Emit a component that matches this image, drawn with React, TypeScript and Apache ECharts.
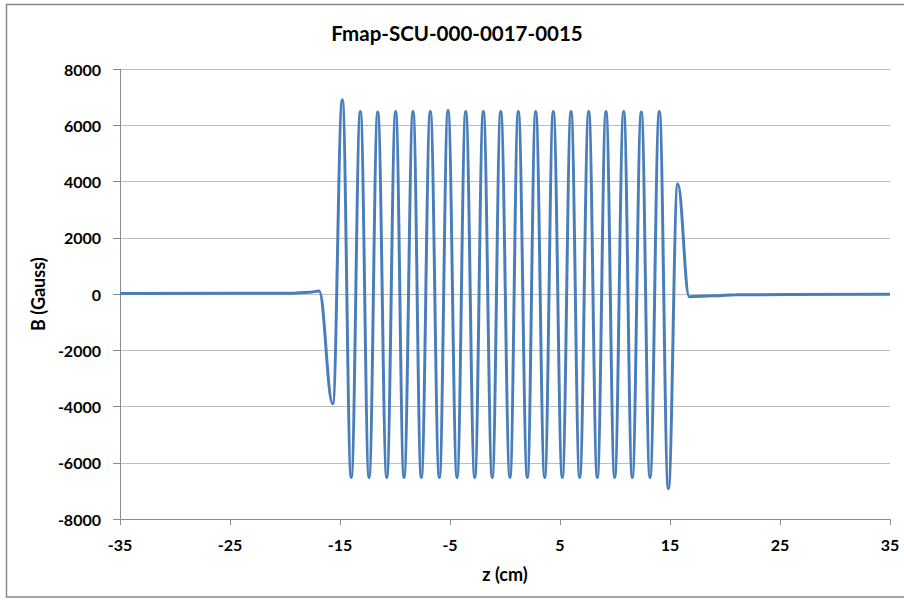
import React, { useEffect, useRef } from "react";
import * as echarts from "echarts";

// Longitudinal position along the magnet (cm) and field reading (Gauss) at each extremum
const Z_CM = [
  -35, -19.6, -17.8, -16.9, -15.66, -14.79, -13.98, -13.15, -12.36, -11.57,
  -10.75, -9.94, -9.18, -8.36, -7.61, -6.79, -5.97, -5.18, -4.36, -3.57,
  -2.75, -1.97, -1.16, -0.39, 0.45, 1.21, 2.03, 2.79, 3.61, 4.39,
  5.21, 6.0, 6.79, 7.61, 8.39, 9.18, 9.97, 10.79, 11.57, 12.39,
  13.18, 14.03, 14.85, 15.7, 16.75, 19.0, 21.0, 35,
];
const B_GAUSS = [
  20, 30, 70, 110, -3900, 6920, -6520, 6500, -6520, 6480,
  -6520, 6500, -6520, 6500, -6520, 6500, -6520, 6530, -6520, 6500,
  -6520, 6500, -6520, 6500, -6520, 6500, -6520, 6500, -6520, 6500,
  -6520, 6500, -6520, 6500, -6520, 6500, -6520, 6500, -6520, 6480,
  -6520, 6500, -6920, 3920, -90, -60, -20, 0,
];

const X_TICKS = [-35, -25, -15, -5, 5, 15, 25, 35];
const TITLE = "Fmap-SCU-000-0017-0015";
const X_NAME = "z (cm)";
const Y_NAME = "B (Gauss)";

const FONT = "Lato, 'Open Sans', sans-serif";

export default function App() {
  const ref = useRef<HTMLDivElement>(null);

  useEffect(() => {
    if (!ref.current) return;
    const chart = echarts.init(ref.current, undefined, { renderer: "svg" });
    const data = Z_CM.map((z, i) => [z, B_GAUSS[i]]);
    const labelStyle = {
      color: "#000",
      fontFamily: FONT,
      fontWeight: "bold" as const,
      fontSize: 16,
    };
    const nameStyle = { ...labelStyle, fontSize: 18 };
    const axisGray = "#8c8c8c";
    chart.setOption({
      animation: false,
      backgroundColor: "#fff",
      grid: { left: 120, right: 14, top: 69.3, bottom: 83, containLabel: false },
      xAxis: {
        type: "value",
        min: -35,
        max: 35,
        name: X_NAME,
        nameLocation: "middle",
        nameGap: 46,
        nameTextStyle: nameStyle,
        axisLine: { show: true, onZero: false, lineStyle: { color: axisGray, width: 1 } },
        axisTick: { show: true, length: 6, customValues: X_TICKS, lineStyle: { color: axisGray } },
        axisLabel: { ...labelStyle, margin: 17, customValues: X_TICKS },
        splitLine: { show: false },
      },
      yAxis: {
        type: "value",
        min: -8000,
        max: 8000,
        interval: 2000,
        name: Y_NAME,
        nameLocation: "middle",
        nameGap: 72,
        nameRotate: 90,
        nameTextStyle: nameStyle,
        axisLine: { show: true, onZero: false, lineStyle: { color: axisGray, width: 1 } },
        axisTick: { show: true, length: 7, lineStyle: { color: axisGray } },
        axisLabel: {
          ...labelStyle,
          margin: 19,
          formatter: (v: number) => String(v),
        },
        splitLine: { show: true, lineStyle: { color: "#bdbdbd", width: 1 } },
      },
      graphic: [
        {
          type: "rect",
          shape: { x: 6.5, y: 4.5, width: 1000, height: 592.5 },
          style: { fill: "none", stroke: "#8a8a8a", lineWidth: 1.5 },
          silent: true,
        },
        {
          type: "text",
          x: 457,
          y: 33,
          style: {
            text: TITLE,
            fill: "#000",
            font: `bold 20.5px ${FONT}`,
            textAlign: "center",
            textVerticalAlign: "middle",
          },
          silent: true,
        },
      ],
      series: [
        {
          type: "line",
          data,
          showSymbol: false,
          smooth: 0.4,
          smoothMonotone: "x",
          lineStyle: { color: "#4a7ebb", width: 3 },
        },
      ],
    });
    return () => chart.dispose();
  }, []);

  return (
    <div
      ref={ref}
      style={{ position: "fixed", left: 0, top: 0, width: 904, height: 602 }}
    />
  );
}
